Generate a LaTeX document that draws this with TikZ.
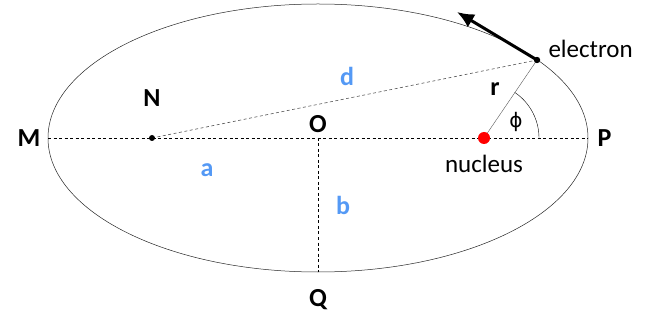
\documentclass[tikz,border=0pt]{standalone}
\usepackage{fontspec}
\setmainfont{Carlito}
\newfontfamily\greekfont{DejaVu Sans}
\usepackage{tikz}
\usetikzlibrary{arrows.meta, positioning}
\definecolor{lenblue}{RGB}{84,153,245}

\begin{document}
\begin{tikzpicture}[x=1pt, y=-1pt]
        \tikzset{axisline/.style={thin, dash pattern=on 3pt off 2.5pt}}
        \tikzset{ptlabel/.style={font=\fontsize{26}{26}\selectfont\bfseries}}
        \tikzset{lenlabel/.style={ptlabel, text=lenblue}}
        \tikzset{wordlabel/.style={font=\fontsize{25}{25}\selectfont}}

        \useasboundingbox (0,0) rectangle (647,320);

        \coordinate (O) at (318,138);
        \coordinate (M) at (48,138);
        \coordinate (P) at (588,138);
        \coordinate (Q) at (318,272);
        \coordinate (N) at (152,138);
        \coordinate (nucleus) at (484,138);
        \coordinate (electron) at (537,60);
        \coordinate (velocity) at (457,12);

        \draw[gray!30!black, line width=0.5pt] (O) ellipse (270pt and 134pt);

        \draw[axisline] (M) -- (P);
        \draw[axisline] (O) -- (Q);
        \draw[gray!65!black, line width=0.6pt, dash pattern=on 3pt off 2.5pt] (N) -- (electron);
        \draw[thin, gray!70!black] (nucleus) -- (electron);
        \draw[thin] ([xshift=55pt]nucleus) arc[start angle=0, end angle=56, radius=55pt];

        \draw[line width=3pt, -{Latex[length=17pt, width=15pt]}] (electron) -- (velocity);

        \fill[black] (N) circle (3pt);
        \fill[black] (electron) circle (3.2pt);
        \fill[red] (nucleus) circle (6pt);

        \node[ptlabel, left=4pt of M] (Mlabel) {M};
        \node[ptlabel, right=6pt of P] (Plabel) {P};
        \node[ptlabel, below=14pt of Q] (Qlabel) {Q};
        \node[ptlabel, above=2pt of O] (Olabel) {O};
        \node[ptlabel] (Nlabel) at (152,98) {N};
        \node[ptlabel] (rlabel) at (495,89) {r};
        \node[font=\fontsize{20}{20}\selectfont\greekfont] (philabel) at (516,122) {ϕ};

        \node[lenlabel] (dlabel) at (347,76) {d};
        \node[lenlabel] (alabel) at (207,170) {a};
        \node[lenlabel] (blabel) at (343,205) {b};

        \node[wordlabel, anchor=west] (elabel) at (545,49) {electron};
        \node[wordlabel, below=14pt of nucleus] (nlabel) {nucleus};

    \end{tikzpicture}
\end{document}
